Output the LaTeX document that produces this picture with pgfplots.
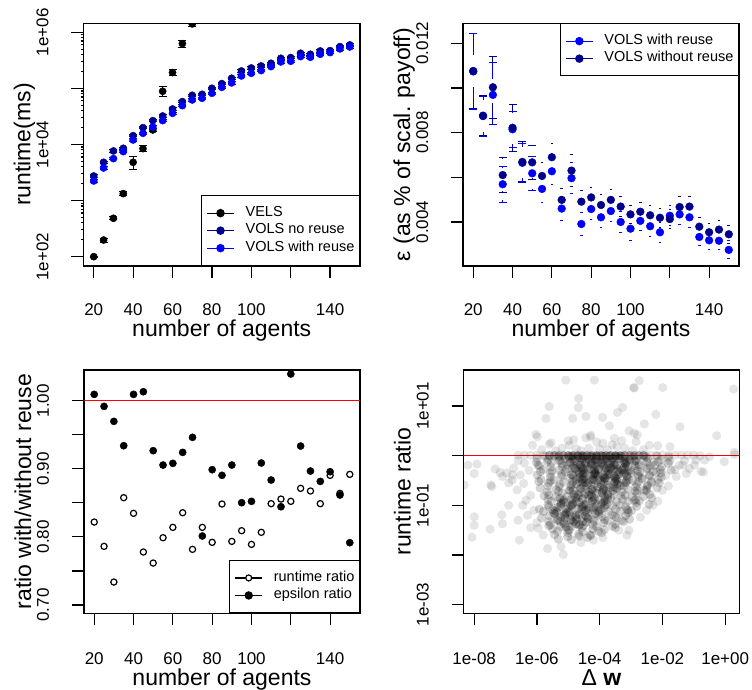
\documentclass[border=0pt]{standalone}
\usepackage{fontspec}
\setmainfont{Liberation Sans}
\usepackage{pgfplots}
\pgfplotsset{compat=1.18}

\definecolor{darkb}{RGB}{0,0,139}
\definecolor{pureb}{RGB}{0,0,255}

\pgfplotsset{
  rplot/.style={
    scale only axis,
    tick align=outside,
    tick pos=left,
    major tick length=12pt,
    minor tick num=0,
    axis line style={line width=1.2pt},
    tick style={black, line width=1.2pt},
    tick label style={font=\fontsize{17}{20}\selectfont, inner sep=1pt},
    label style={font=\fontsize{23}{27}\selectfont, inner sep=1pt},
    yticklabel style={xshift=-23pt, rotate=90, anchor=base},
    ylabel style={at={(axis description cs:-0.192,0.5)}, anchor=base},
    clip marker paths=true,
    scaled ticks=false,
    legend cell align=left,
    legend style={font=\fontsize{14.5}{17}\selectfont, draw=black, line width=1.2pt,
      inner xsep=5pt, inner ysep=8.5pt, row sep=0pt, column sep=11pt,
      nodes={inner sep=0pt, text height=12pt, text depth=5.5pt}},
  },
  toprow/.style={xticklabel style={anchor=base, yshift=-38pt},
    xlabel style={at={(axis description cs:0.5,-0.291)}, anchor=base}},
  botrow/.style={xticklabel style={anchor=base, yshift=-39pt},
    xlabel style={at={(axis description cs:0.5,-0.295)}, anchor=base}},
  legdot/.style={legend image code/.code={
    \draw[#1, line width=1.2pt] (0pt,0pt) -- (27pt,0pt);
    \fill[#1] (13.5pt,0pt) circle (3.6pt);}},
  legopen/.style={legend image code/.code={
    \draw[#1, line width=1.2pt] (0pt,0pt) -- (27pt,0pt);
    \draw[#1, fill=white, line width=1.2pt] (13.5pt,0pt) circle (3pt);}},
  ebar/.style={error bars/y dir=both, error bars/y explicit relative,
    error bars/error bar style={line width=1pt},
    error bars/error mark options={rotate=90, mark size=4pt, line width=1pt}},
  gdot/.style={black, only marks, mark=*, mark size=4.6pt,
    mark options={draw opacity=0, fill opacity=#1}, forget plot},
}

\begin{document}
\begin{tikzpicture}
\useasboundingbox (0pt,0pt) rectangle (752pt,690pt);

% ---------------- top left: runtime
\begin{axis}[rplot, toprow, at={(83.5pt,424pt)}, anchor=south west,
  width=276.5pt, height=242.7pt,
  xmin=14.8, xmax=155.2, ymode=log, ymin=68.2, ymax=1.445e6,
  xtick={20,40,60,80,100,120,140}, xticklabels={20,40,60,80,100,,140},
  ytick={1e2,1e3,1e4,1e5,1e6}, yticklabels={1e+02,,1e+04,,1e+06},
  xlabel={number of agents}, ylabel={runtime(ms)},
  legend style={at={(1,0)}, anchor=south east}]
\addplot[black, only marks, mark=*, mark size=3.6pt, legdot=black, ebar] coordinates {
 (20,100) +- (0,0.02) (25,198) +- (0,0.08) (30,483) +- (0,0.06) (35,1330) +- (0,0.08)
 (40,4810) +- (0,0.25) (45,8430) +- (0,0.12) (50,18150) +- (0,0.06) (55,88700) +- (0,0.2)
 (60,191000) +- (0,0.12) (65,628000) +- (0,0.15) (70,1410000) +- (0,0.1)};
\addlegendentry{VELS}
\addplot[darkb, only marks, mark=*, mark size=3.6pt, legdot=darkb, ebar] coordinates {
 (20,2742) +- (0,0.05) (25,4810) +- (0,0.05) (30,7660) +- (0,0.05) (35,8550) +- (0,0.05)
 (40,14360) +- (0,0.05) (45,19950) +- (0,0.05) (50,26600) +- (0,0.05) (55,32200) +- (0,0.05)
 (60,42950) +- (0,0.05) (65,58100) +- (0,0.05) (70,75300) +- (0,0.05) (75,78400) +- (0,0.05)
 (80,100400) +- (0,0.05) (85,121600) +- (0,0.05) (90,151400) +- (0,0.05) (95,204500) +- (0,0.05)
 (100,231000) +- (0,0.05) (105,251000) +- (0,0.05) (110,280000) +- (0,0.05) (115,343700) +- (0,0.05)
 (120,353400) +- (0,0.05) (125,422400) +- (0,0.05) (130,405300) +- (0,0.05) (135,464700) +- (0,0.05)
 (140,471000) +- (0,0.05) (145,555000) +- (0,0.05) (150,594300) +- (0,0.05)};
\addlegendentry{VOLS no reuse}
\addplot[pureb, only marks, mark=*, mark size=3.6pt, legdot=pureb, ebar] coordinates {
 (20,2234) +- (0,0.05) (25,3810) +- (0,0.05) (30,5590) +- (0,0.05) (35,7450) +- (0,0.05)
 (40,12020) +- (0,0.05) (45,15810) +- (0,0.05) (50,20500) +- (0,0.05) (55,26600) +- (0,0.05)
 (60,35970) +- (0,0.05) (65,49200) +- (0,0.05) (70,62100) +- (0,0.05) (75,66500) +- (0,0.05)
 (80,81700) +- (0,0.05) (85,104400) +- (0,0.05) (90,125000) +- (0,0.05) (95,166400) +- (0,0.05)
 (100,185800) +- (0,0.05) (105,207300) +- (0,0.05) (110,244000) +- (0,0.05) (115,295700) +- (0,0.05)
 (120,304000) +- (0,0.05) (125,368200) +- (0,0.05) (130,358100) +- (0,0.05) (135,405300) +- (0,0.05)
 (140,433900) +- (0,0.05) (145,504700) +- (0,0.05) (150,547300) +- (0,0.05)};
\addlegendentry{VOLS with reuse}
\end{axis}

% ---------------- top right: epsilon
\begin{axis}[rplot, toprow, at={(463pt,424pt)}, anchor=south west,
  width=276pt, height=242.7pt,
  xmin=14.8, xmax=155.2, ymin=0.00203, ymax=0.012895,
  xtick={20,40,60,80,100,120,140}, xticklabels={20,40,60,80,100,,140},
  ytick={0.004,0.006,0.008,0.010,0.012}, yticklabels={0.004,,0.008,,0.012},
  xlabel={number of agents}, ylabel={ε (as \% of scal. payoff)},
  unbounded coords=jump,
  legend style={at={(1,1)}, anchor=north east}]
% error bar stems, drawn outside the gap round each point
\addplot[darkb, line width=1pt, forget plot] coordinates {
 (20,0.01148) (20,0.01246) (20,nan) (20,0.00906) (20,0.01004) (20,nan)
 (25,0.00948) (25,0.00966) (25,nan) (25,0.00786) (25,0.00804) (25,nan)
 (30,0.01075) (30,0.01143) (30,nan) (30,0.00863) (30,0.00931) (30,nan)
 (35,0.00682) (35,0.00690) (35,nan) (35,0.00530) (35,0.00538) (35,nan)
 (40,0.00894) (40,0.00927) (40,nan) (40,0.00717) (40,0.00750) (40,nan)
 (45,0.00741) (45,0.00759) (45,nan) (45,0.00579) (45,0.00597) (45,nan)
 (50,0.00739) (50,0.00744) (50,nan) (50,0.00590) (50,0.00595)};
\addplot[darkb, only marks, mark=-, mark size=4pt, mark options={line width=1pt}, forget plot] coordinates {
 (20,0.01246) (20,0.00906) (25,0.00966) (25,0.00786) (30,0.01143) (30,0.00863) (35,0.00690) (35,0.00530)
 (40,0.00927) (40,0.00717) (45,0.00759) (45,0.00579) (50,0.00744) (50,0.00590)};
\addplot[darkb, only marks, mark=-, mark size=1.3pt, mark options={line width=1pt}, forget plot] coordinates {
 (55,0.00666) (55,0.00546) (60,0.00750) (60,0.00630) (65,0.00549) (65,0.00449) (70,0.00700) (70,0.00560)
 (75,0.00541) (75,0.00441) (80,0.00555) (80,0.00465) (85,0.00521) (85,0.00431) (90,0.00544) (90,0.00454)
 (95,0.00514) (95,0.00424) (100,0.00476) (100,0.00392) (105,0.00488) (105,0.00404) (110,0.00472) (110,0.00388)
 (115,0.00461) (115,0.00377) (120,0.00455) (120,0.00371) (125,0.00512) (125,0.00422) (130,0.00514) (130,0.00424)
 (135,0.00419) (135,0.00339) (140,0.00394) (140,0.00314) (145,0.00406) (145,0.00326) (150,0.00385) (150,0.00305)};
\addplot[pureb, line width=1pt, forget plot] coordinates {
 (20,0.01146) (20,0.01244) (20,nan) (20,0.00904) (20,0.01002) (20,nan)
 (25,0.00946) (25,0.00964) (25,nan) (25,0.00784) (25,0.00802) (25,nan)
 (30,0.01041) (30,0.01115) (30,nan) (30,0.00835) (30,0.00897) (30,nan)
 (35,0.00641) (35,0.00649) (35,nan) (35,0.00489) (35,0.00497) (35,nan)
 (40,0.00887) (40,0.00895) (40,nan) (40,0.00735) (40,0.00743) (40,nan)
 (45,0.00737) (45,0.00750) (45,nan) (45,0.00580) (45,0.00593) (45,nan)
 (50,0.00690) (50,0.00695) (50,nan) (50,0.00541) (50,0.00546)};
\addplot[pureb, only marks, mark=-, mark size=4pt, mark options={line width=1pt}, forget plot] coordinates {
 (20,0.01244) (20,0.00904) (25,0.00964) (25,0.00784) (30,0.01115) (30,0.00835) (35,0.00649) (35,0.00489)
 (40,0.00895) (40,0.00735) (45,0.00750) (45,0.00580) (50,0.00695) (50,0.00541)};
\addplot[pureb, only marks, mark=-, mark size=1.3pt, mark options={line width=1pt}, forget plot] coordinates {
 (55,0.00608) (55,0.00488) (60,0.00687) (60,0.00567) (65,0.00515) (65,0.00405) (70,0.00666) (70,0.00526)
 (75,0.00441) (75,0.00341) (80,0.00503) (80,0.00413) (85,0.00466) (85,0.00376) (90,0.00494) (90,0.00404)
 (95,0.00445) (95,0.00355) (100,0.00425) (100,0.00315) (105,0.00450) (105,0.00360) (110,0.00426) (110,0.00336)
 (115,0.00399) (115,0.00309) (120,0.00473) (120,0.00383) (125,0.00479) (125,0.00389) (130,0.00466) (130,0.00376)
 (135,0.00373) (135,0.00293) (140,0.00358) (140,0.00278) (145,0.00356) (145,0.00276) (150,0.00315) (150,0.00235)};
\addplot[pureb, only marks, mark=*, mark size=3.9pt, legdot=pureb] coordinates {
 (20,0.01074) (25,0.00874) (30,0.00969) (35,0.00569) (40,0.00815) (45,0.00665) (50,0.00618)
 (55,0.00548) (60,0.00627) (65,0.00460) (70,0.00596) (75,0.00391) (80,0.00458) (85,0.00421)
 (90,0.00449) (95,0.00400) (100,0.00370) (105,0.00405) (110,0.00381) (115,0.00354) (120,0.00428)
 (125,0.00434) (130,0.00421) (135,0.00333) (140,0.00318) (145,0.00316) (150,0.00275)};
\addlegendentry{VOLS with reuse}
\addplot[darkb, only marks, mark=*, mark size=3.9pt, legdot=darkb] coordinates {
 (20,0.01076) (25,0.00876) (30,0.01003) (35,0.00610) (40,0.00822) (45,0.00669) (50,0.00667)
 (55,0.00606) (60,0.00690) (65,0.00499) (70,0.00630) (75,0.00491) (80,0.00510) (85,0.00476)
 (90,0.00499) (95,0.00469) (100,0.00434) (105,0.00446) (110,0.00430) (115,0.00419) (120,0.00413)
 (125,0.00467) (130,0.00469) (135,0.00379) (140,0.00354) (145,0.00366) (150,0.00345)};
\addlegendentry{VOLS without reuse}
\end{axis}

% ---------------- bottom left: ratios
\begin{axis}[rplot, botrow, at={(84pt,76.7pt)}, anchor=south west,
  width=276pt, height=243.3pt,
  xmin=14.8, xmax=155.2, ymin=0.6878, ymax=1.0451,
  xtick={20,40,60,80,100,120,140}, xticklabels={20,40,60,80,100,,140},
  ytick={0.70,0.75,0.80,0.85,0.90,0.95,1.00}, yticklabels={0.70,,0.80,,0.90,,1.00},
  xlabel={number of agents}, ylabel={ratio with/without reuse},
  legend style={at={(1,0)}, anchor=south east}]
\addplot[black, only marks, mark=o, mark size=3.1pt, mark options={line width=1.2pt}, legopen=black] coordinates {
 (20,0.8218) (25,0.7861) (30,0.7337) (35,0.8576) (40,0.8346) (45,0.7778) (50,0.7616)
 (55,0.7988) (60,0.8140) (65,0.8355) (70,0.7817) (75,0.8140) (80,0.7920) (85,0.8483)
 (90,0.7934) (95,0.8091) (100,0.7890) (105,0.8067) (110,0.8488) (115,0.8556) (120,0.8522)
 (125,0.8713) (130,0.8674) (135,0.8488) (140,0.8904) (145,0.8639) (150,0.8918)};
\addlegendentry{runtime ratio}
\addplot[black, only marks, mark=*, mark size=3.6pt, legdot=black] coordinates {
 (20,1.0093) (25,0.9917) (30,0.9697) (35,0.9339) (40,1.0093) (45,1.0132) (50,0.9266)
 (55,0.9055) (60,0.9080) (65,0.9241) (70,0.9462) (75,0.8013) (80,0.8987) (85,0.8904)
 (90,0.9055) (95,0.8502) (100,0.8522) (105,0.9085) (110,0.8835) (115,0.8443) (120,1.0392)
 (125,0.9334) (130,0.8967) (135,0.8815) (140,0.8957) (145,0.8615) (150,0.7915)};
\addlegendentry{epsilon ratio}
\addplot[red, line width=1.2pt, forget plot] coordinates {(0,1) (200,1)};
\end{axis}

% ---------------- bottom right: runtime ratio against delta w (values are log10)
% the cloud is split into several short series
\begin{axis}[rplot, botrow, at={(463.5pt,76.7pt)}, anchor=south west,
  width=276pt, height=243.3pt,
  xmin=-8.34, xmax=0.456, ymin=-3.173, ymax=1.724,
  xtick={-8,-6,-4,-2,0}, xticklabels={1e-08,1e-06,1e-04,1e-02,1e+00},
  ytick={-3,-2,-1,0,1}, yticklabels={1e-03,,1e-01,,1e+01},
  xlabel={Δ \textbf{w}}, ylabel={runtime ratio}]
% ratio = 1, drawn before the translucent points
\addplot[red, line width=1.3pt, forget plot] coordinates {(-9,0) (1,0)};
% sparse outer points
\addplot[gdot=0.1] coordinates {
 (-5.08,1.52) (-4.17,1.52) (-2.74,1.51) (-2.92,1.37) (-2.90,1.36) (-1.99,1.37) (0.27,1.34)
 (-4.67,1.15) (-4.68,0.97) (-5.61,0.99) (-5.71,0.75) (-4.44,0.79) (-3.91,0.77) (-3.27,0.97)
 (-3.43,0.87) (-4.86,0.75) (-2.21,0.83) (-2.58,0.64) (-3.69,0.60) (-1.44,0.58) (-0.27,0.40)
 (-6.03,0.43) (-5.99,0.38) (-4.30,0.38) (-4.28,0.41) (-3.53,0.35) (-3.06,0.50) (-2.90,0.45)
 (-2.80,0.42) (-4.44,0.36) (-6.14,0.21) (-5.61,0.23) (-5.55,0.26) (-4.97,0.21) (-4.83,0.32)};
\addplot[gdot=0.1] coordinates {
 (-4.35,0.15) (-2.84,0.28) (-2.42,0.21) (-2.15,0.20) (-1.76,0.18) (-3.60,0.22) (-3.90,0.25)
 (-3.30,0.30) (-3.75,0.12) (-4.10,0.28) (-5.20,0.15) (-5.85,0.12) (-3.20,0.15) (-2.60,0.12)
 (-4.60,0.10) (-5.40,0.10) (-2.95,0.10) (-4.00,0.13) (-3.45,0.18) (-5.00,0.30) (-4.75,0.14)
 (0.29,0.07) (-0.66,-0.09) (-0.93,-0.09) (-0.03,-0.12) (-0.77,-0.32) (-1.14,-0.26) (-1.46,-0.19)
 (-1.30,-0.10) (-1.60,-0.28) (-1.90,-0.40) (-1.81,-0.61) (-1.35,-0.19) (-0.98,-0.19) (-1.24,-0.36)};
\addplot[gdot=0.1] coordinates {
 (-1.56,-0.42) (-0.69,-0.33) (-2.00,-0.70) (-2.15,-0.92) (-2.30,-1.00) (-2.50,-1.10) (-2.70,-1.24)
 (-3.07,-1.50) (-3.39,-1.50) (-3.13,-1.60) (-3.90,-1.65) (-4.20,-1.70) (-4.60,-1.75) (-5.23,-1.83)
 (-5.66,-1.87) (-5.16,-1.99) (-6.56,-1.70) (-5.96,-1.46) (-5.80,-1.60) (-6.20,-1.45) (-6.00,-1.35)
 (-6.10,-1.10) (-6.35,-0.90) (-6.20,-0.80) (-6.45,-1.00) (-6.90,-1.00) (-6.60,-1.30) (-6.30,-1.20)};
\addplot[gdot=0.1] coordinates {
 (-7.12,-1.19) (-7.10,-1.37) (-7.49,-1.48) (-8.00,-1.23) (-8.00,-1.40) (-8.07,-1.64) (-7.44,-0.62)
 (-8.32,-0.59) (-8.20,-0.19) (-8.00,-0.36) (-7.91,-0.17) (-7.47,-0.59) (-7.10,-0.42) (-6.78,-0.39)
 (-7.33,-0.27) (-7.17,-0.34) (-6.96,-0.35) (-6.74,-0.25) (-6.53,-0.39) (-6.79,-0.49) (-6.63,-0.69)
 (-6.42,-0.56) (-6.90,-0.55) (-6.25,-0.30) (-6.40,-0.15) (-6.60,-0.10)};
% row of points at ratio 1
\addplot[gdot=0.1] coordinates {
 (-6.6,0.01) (-6.4,0.01) (-6.2,0.01) (-6.0,0.01) (-5.8,0.01) (-5.6,0.01) (-5.4,0.01) (-5.2,0.01)
 (-5.0,0.01) (-4.8,0.01) (-4.6,0.01) (-4.4,0.01) (-4.2,0.01) (-4.0,0.01) (-3.8,0.01) (-3.6,0.01)
 (-3.4,0.01) (-3.2,0.01) (-3.0,0.01) (-2.8,0.01) (-2.6,0.01) (-2.4,0.01) (-2.2,0.01) (-2.0,0.01)
 (-1.8,0.01) (-1.6,0.01) (-1.4,0.01) (-1.2,0.01) (-1.0,0.01) (-0.8,0.0) (-0.5,-0.02) (0.3,0.02)};
% main cloud
\addplot[gdot=0.17] coordinates {
 (-6.0,-0.05) (-5.74,-0.01) (-5.64,-0.08) (-5.32,-0.03) (-5.27,-0.09) (-4.97,-0.02) (-4.85,-0.05) (-4.6,-0.01)
 (-4.34,-0.08) (-4.24,-0.03) (-3.92,-0.09) (-3.87,-0.02) (-3.57,-0.05) (-3.45,-0.01) (-3.2,-0.08) (-2.94,-0.03)
 (-2.84,-0.09) (-2.52,-0.02) (-2.47,-0.05) (-2.17,-0.01) (-2.05,-0.08) (-1.8,-0.03)
 (-6.02,-0.13) (-5.97,-0.19) (-5.67,-0.12) (-5.55,-0.15) (-5.3,-0.11) (-5.04,-0.18) (-4.94,-0.13) (-4.62,-0.19)
 (-4.57,-0.12) (-4.27,-0.15) (-4.15,-0.11) (-3.9,-0.18) (-3.64,-0.13) (-3.54,-0.19) (-3.22,-0.12) (-3.17,-0.15)
 (-2.87,-0.11) (-2.75,-0.18) (-2.5,-0.13) (-2.24,-0.19) (-2.14,-0.12) (-1.82,-0.15) (-1.77,-0.11)};
\addplot[gdot=0.17] coordinates {
 (-5.92,-0.21) (-5.80,-0.28) (-5.55,-0.23) (-5.29,-0.29) (-5.19,-0.22) (-4.87,-0.25) (-4.82,-0.21) (-4.52,-0.28)
 (-4.40,-0.23) (-4.15,-0.29) (-3.89,-0.22) (-3.79,-0.25) (-3.47,-0.21) (-3.42,-0.28) (-3.12,-0.23) (-3.00,-0.29)
 (-2.75,-0.22) (-2.49,-0.25) (-2.39,-0.21) (-2.07,-0.28) (-2.02,-0.23) (-1.72,-0.29)
 (-5.99,-0.39) (-5.89,-0.32) (-5.57,-0.35) (-5.52,-0.31) (-5.22,-0.38) (-5.10,-0.33) (-4.85,-0.39) (-4.59,-0.32)
 (-4.49,-0.35) (-4.17,-0.31) (-4.12,-0.38) (-3.82,-0.33) (-3.70,-0.39) (-3.45,-0.32) (-3.19,-0.35) (-3.09,-0.31)
 (-2.77,-0.38) (-2.72,-0.33) (-2.42,-0.39) (-2.30,-0.32) (-2.05,-0.35)};
\addplot[gdot=0.17] coordinates {
 (-5.87,-0.48) (-5.57,-0.43) (-5.45,-0.49) (-5.2,-0.42) (-4.94,-0.45) (-4.84,-0.41) (-4.52,-0.48) (-4.47,-0.43)
 (-4.17,-0.49) (-4.05,-0.42) (-3.8,-0.45) (-3.54,-0.41) (-3.44,-0.48) (-3.12,-0.43) (-3.07,-0.49) (-2.77,-0.42)
 (-2.65,-0.45) (-2.4,-0.41) (-2.14,-0.48) (-2.04,-0.43)
 (-5.94,-0.52) (-5.62,-0.55) (-5.57,-0.51) (-5.27,-0.58) (-5.15,-0.53) (-4.9,-0.59) (-4.64,-0.52) (-4.54,-0.55)
 (-4.22,-0.51) (-4.17,-0.58) (-3.87,-0.53) (-3.75,-0.59) (-3.5,-0.52) (-3.24,-0.55) (-3.14,-0.51) (-2.82,-0.58)
 (-2.77,-0.53) (-2.47,-0.59) (-2.35,-0.52) (-2.1,-0.55)};
\addplot[gdot=0.17] coordinates {
 (-5.90,-0.65) (-5.65,-0.61) (-5.39,-0.68) (-5.29,-0.63) (-4.97,-0.69) (-4.92,-0.62) (-4.62,-0.65) (-4.50,-0.61)
 (-4.25,-0.68) (-3.99,-0.63) (-3.89,-0.69) (-3.57,-0.62) (-3.52,-0.65) (-3.22,-0.61) (-3.10,-0.68) (-2.85,-0.63)
 (-2.59,-0.69) (-2.49,-0.62) (-2.17,-0.65)
 (-5.67,-0.73) (-5.62,-0.79) (-5.32,-0.72) (-5.20,-0.75) (-4.95,-0.71) (-4.69,-0.78) (-4.59,-0.73) (-4.27,-0.79)
 (-4.22,-0.72) (-3.92,-0.75) (-3.80,-0.71) (-3.55,-0.78) (-3.29,-0.73) (-3.19,-0.79) (-2.87,-0.72) (-2.82,-0.75)
 (-2.52,-0.71) (-2.40,-0.78)};
\addplot[gdot=0.17] coordinates {
 (-5.77,-0.81) (-5.65,-0.88) (-5.4,-0.83) (-5.14,-0.89) (-5.04,-0.82) (-4.72,-0.85) (-4.67,-0.81) (-4.37,-0.88)
 (-4.25,-0.83) (-4.0,-0.89) (-3.74,-0.82) (-3.64,-0.85) (-3.32,-0.81) (-3.27,-0.88) (-2.97,-0.83) (-2.85,-0.89)
 (-2.6,-0.82) (-2.34,-0.85)
 (-5.64,-0.99) (-5.54,-0.92) (-5.22,-0.95) (-5.17,-0.91) (-4.87,-0.98) (-4.75,-0.93) (-4.5,-0.99) (-4.24,-0.92)
 (-4.14,-0.95) (-3.82,-0.91) (-3.77,-0.98) (-3.47,-0.93) (-3.35,-0.99) (-3.1,-0.92) (-2.84,-0.95) (-2.74,-0.91)
 (-2.42,-0.98)};
\addplot[gdot=0.17] coordinates {
 (-5.92,-1.08) (-5.62,-1.03) (-5.50,-1.09) (-5.25,-1.02) (-4.99,-1.05) (-4.89,-1.01) (-4.57,-1.08) (-4.52,-1.03)
 (-4.22,-1.09) (-4.10,-1.02) (-3.85,-1.05) (-3.59,-1.01) (-3.49,-1.08) (-3.17,-1.03) (-3.12,-1.09) (-2.82,-1.02)
 (-5.79,-1.12) (-5.47,-1.15) (-5.42,-1.11) (-5.12,-1.18) (-5.00,-1.13) (-4.75,-1.19) (-4.49,-1.12) (-4.39,-1.15)
 (-4.07,-1.11) (-4.02,-1.18) (-3.72,-1.13) (-3.60,-1.19) (-3.35,-1.12) (-3.09,-1.15) (-2.99,-1.11)
 (-5.85,-1.25) (-5.6,-1.21) (-5.34,-1.28) (-5.24,-1.23) (-4.92,-1.29) (-4.87,-1.22) (-4.57,-1.25) (-4.45,-1.21)
 (-4.2,-1.28) (-3.94,-1.23) (-3.84,-1.29) (-3.52,-1.22) (-3.47,-1.25) (-3.17,-1.21) (-3.05,-1.28)};
\addplot[gdot=0.17] coordinates {
 (-5.62,-1.33) (-5.57,-1.39) (-5.27,-1.32) (-5.15,-1.35) (-4.9,-1.31) (-4.64,-1.38) (-4.54,-1.33) (-4.22,-1.39)
 (-4.17,-1.32) (-3.87,-1.35) (-3.75,-1.31) (-3.5,-1.38) (-3.24,-1.33)
 (-5.62,-1.41) (-5.50,-1.48) (-5.25,-1.43) (-4.99,-1.49) (-4.89,-1.42) (-4.57,-1.45) (-4.52,-1.41) (-4.22,-1.48)
 (-4.10,-1.43) (-3.85,-1.49) (-3.59,-1.42)
 (-5.44,-1.59) (-5.34,-1.52) (-5.02,-1.55) (-4.97,-1.51) (-4.67,-1.58) (-4.55,-1.53) (-4.3,-1.59) (-4.04,-1.52) (-3.94,-1.55)
 (-5.32,-1.68) (-5.02,-1.63) (-4.90,-1.69) (-4.65,-1.62) (-4.39,-1.65) (-4.29,-1.61)};
% right side of the cloud, medium density
\addplot[gdot=0.15] coordinates {
 (-2.9,-0.12) (-2.6,-0.10) (-2.3,-0.14) (-2.8,-0.30) (-2.5,-0.27) (-2.2,-0.33) (-2.95,-0.50)
 (-2.65,-0.47) (-2.35,-0.55) (-2.8,-0.70) (-2.5,-0.68) (-2.9,-0.90) (-3.1,-1.10) (-3.3,-1.30) (-3.5,-1.45)};
% dense core
\addplot[gdot=0.24] coordinates {
 (-4.8,-0.1) (-4.54,-0.06) (-4.44,-0.13) (-4.12,-0.08) (-4.07,-0.14) (-3.77,-0.07) (-3.65,-0.1) (-3.4,-0.06) (-3.14,-0.13) (-3.04,-0.08)
 (-4.62,-0.18) (-4.57,-0.24) (-4.27,-0.17) (-4.15,-0.2) (-3.9,-0.16) (-3.64,-0.23) (-3.54,-0.18) (-3.22,-0.24) (-3.17,-0.17) (-2.87,-0.2)
 (-4.77,-0.26) (-4.65,-0.33) (-4.4,-0.28) (-4.14,-0.34) (-4.04,-0.27) (-3.72,-0.3) (-3.67,-0.26) (-3.37,-0.33) (-3.25,-0.28) (-3.0,-0.34)
 (-4.64,-0.44) (-4.54,-0.37) (-4.22,-0.4) (-4.17,-0.36) (-3.87,-0.43) (-3.75,-0.38) (-3.5,-0.44) (-3.24,-0.37) (-3.14,-0.4)
 (-4.87,-0.53) (-4.57,-0.48) (-4.45,-0.54) (-4.2,-0.47) (-3.94,-0.5) (-3.84,-0.46) (-3.52,-0.53) (-3.47,-0.48) (-3.17,-0.54)};
\addplot[gdot=0.24] coordinates {
 (-4.74,-0.57) (-4.42,-0.6) (-4.37,-0.56) (-4.07,-0.63) (-3.95,-0.58) (-3.7,-0.64) (-3.44,-0.57) (-3.34,-0.6)
 (-4.85,-0.7) (-4.6,-0.66) (-4.34,-0.73) (-4.24,-0.68) (-3.92,-0.74) (-3.87,-0.67) (-3.57,-0.7) (-3.45,-0.66)
 (-4.82,-0.78) (-4.77,-0.84) (-4.47,-0.77) (-4.35,-0.8) (-4.1,-0.76) (-3.84,-0.83) (-3.74,-0.78)
 (-5.27,-0.86) (-5.15,-0.93) (-4.9,-0.88) (-4.64,-0.94) (-4.54,-0.87) (-4.22,-0.9) (-4.17,-0.86) (-3.87,-0.93) (-3.75,-0.88)};
\addplot[gdot=0.24] coordinates {
 (-5.34,-1.04) (-5.24,-0.97) (-4.92,-1.0) (-4.87,-0.96) (-4.57,-1.03) (-4.45,-0.98) (-4.2,-1.04) (-3.94,-0.97) (-3.84,-1.0)
 (-5.37,-1.13) (-5.07,-1.08) (-4.95,-1.14) (-4.7,-1.07) (-4.44,-1.1) (-4.34,-1.06) (-4.02,-1.13) (-3.97,-1.08)
 (-5.44,-1.17) (-5.12,-1.2) (-5.07,-1.16) (-4.77,-1.23) (-4.65,-1.18) (-4.4,-1.24) (-4.14,-1.17)
 (-5.35,-1.3) (-5.1,-1.26) (-4.84,-1.33) (-4.74,-1.28) (-4.42,-1.34) (-4.37,-1.27)
 (-5.12,-1.38) (-5.07,-1.44) (-4.77,-1.37) (-4.65,-1.4)};
% darkest part just below ratio 1
\addplot[gdot=0.2] coordinates {
 (-5.1,-0.06) (-4.85,-0.08) (-4.6,-0.05) (-4.35,-0.07) (-4.1,-0.04) (-3.85,-0.08) (-3.6,-0.06) (-3.35,-0.05)
 (-5.2,-0.16) (-4.95,-0.14) (-4.7,-0.17) (-4.45,-0.15) (-4.2,-0.18) (-3.95,-0.14) (-3.7,-0.16) (-3.45,-0.18) (-3.2,-0.15)
 (-5.05,-0.27) (-4.8,-0.25) (-4.55,-0.28) (-4.3,-0.26) (-4.05,-0.29) (-3.8,-0.25) (-3.55,-0.27) (-3.3,-0.29)
 (-4.9,-0.38) (-4.65,-0.36) (-4.4,-0.39) (-4.15,-0.37) (-3.9,-0.40) (-3.65,-0.36) (-3.4,-0.38)
 (-4.75,-0.48) (-4.5,-0.46) (-4.25,-0.49) (-4.0,-0.47) (-3.75,-0.50) (-3.5,-0.46)};
% dense part of the row at ratio 1
\addplot[gdot=0.26] coordinates {
 (-5.6,0.0) (-5.45,0.0) (-5.3,0.0) (-5.15,0.0) (-5.0,0.0) (-4.85,0.0) (-4.7,0.0) (-4.55,0.0)
 (-4.4,0.0) (-4.25,0.0) (-4.1,0.0) (-3.95,0.0) (-3.8,0.0) (-3.65,0.0) (-3.5,0.0) (-3.35,0.0)
 (-3.2,0.0) (-3.05,0.0) (-2.9,0.0) (-2.75,0.0) (-2.6,0.0)
 (-4.9,-0.01) (-4.7,-0.01) (-4.5,-0.01) (-4.3,-0.01) (-4.1,-0.01) (-3.9,-0.01) (-3.7,-0.01) (-3.5,-0.01) (-3.3,-0.01)};
\end{axis}
\end{tikzpicture}
\end{document}
